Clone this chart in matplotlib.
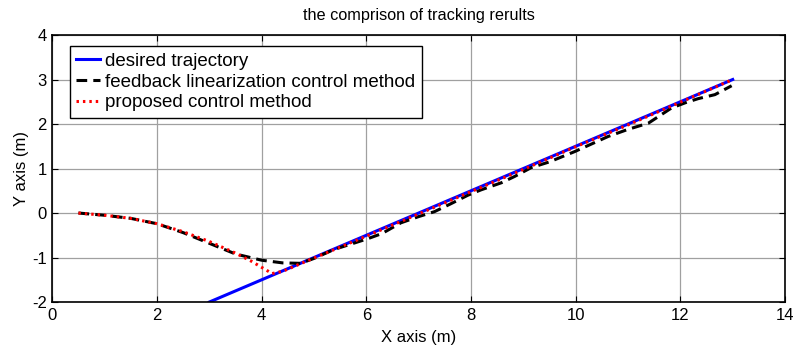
import matplotlib
matplotlib.use("Agg")
import matplotlib.pyplot as plt

# desired trajectory (straight line)
desired_x = [3.0, 13.0]
desired_y = [-2.0, 3.0]

# feedback linearization control method
fl_x = [0.5, 1.0, 1.5, 2.0, 2.5, 3.0, 3.5, 4.0, 4.4, 4.74, 5.0, 5.38, 5.7,
        6.02, 6.3, 6.66, 7.0, 7.3, 7.6, 7.94, 8.19, 8.58, 8.83, 9.15, 9.5,
        9.98, 10.3, 10.62, 11.0, 11.39, 11.83, 12.1, 12.34, 12.66, 12.98]
fl_y = [0.0, -0.05, -0.12, -0.24, -0.44, -0.68, -0.92, -1.06, -1.12, -1.13,
        -1.02, -0.82, -0.70, -0.58, -0.46, -0.22, -0.08, 0.03, 0.20, 0.40,
        0.52, 0.68, 0.82, 1.02, 1.15, 1.38, 1.55, 1.72, 1.88, 2.02, 2.36,
        2.48, 2.57, 2.66, 2.86]

# proposed control method
pr_x = [0.5, 1.0, 1.5, 2.0, 2.5, 3.0, 3.5, 3.8, 4.0, 4.2, 4.4, 5.0, 6.0,
        7.0, 8.0, 9.0, 10.0, 11.0, 12.0, 13.0]
pr_y = [0.0, -0.05, -0.12, -0.24, -0.42, -0.64, -0.90, -1.08, -1.22, -1.36,
        -1.31, -1.01, -0.52, -0.02, 0.48, 0.98, 1.49, 1.98, 2.49, 3.0]

xticks = [0, 2, 4, 6, 8, 10, 12, 14]
yticks = [-2, -1, 0, 1, 2, 3, 4]

plt.rcParams['font.family'] = ['Liberation Sans', 'DejaVu Sans']
plt.rcParams['font.size'] = 12
plt.rcParams['axes.unicode_minus'] = False  # matlab style hyphen minus


def plot_chart():
    fig = plt.figure(figsize=(7.97, 3.5), dpi=100)
    ax = fig.add_axes([0.0656, 0.137, 0.9194, 0.763])

    ax.plot(desired_x, desired_y, color='#0000ff', lw=2.2, label='desired trajectory')
    ax.plot(fl_x, fl_y, color='black', lw=2.2, ls=(0, (3.5, 2)),
            label='feedback linearization control method')
    ax.plot(pr_x, pr_y, color='#ff0000', lw=2.2, ls=(0, (0.8, 1.3)),
            label='proposed control method')

    ax.set_xlim(0, 14)
    ax.set_ylim(-2, 4)
    ax.set_xticks(xticks)
    ax.set_yticks(yticks)
    ax.grid(True, color='#a0a0a0', lw=0.9)
    ax.tick_params(direction='in', top=True, right=True, length=4, pad=4)
    for s in ax.spines.values():
        s.set_linewidth(1.2)

    ax.set_title('the comprison of tracking rerults', fontsize=11.7, pad=11)
    ax.set_xlabel('X axis (m)', labelpad=5)
    ax.set_ylabel('Y axis (m)', labelpad=2)

    leg = ax.legend(loc='upper left', bbox_to_anchor=(0.024, 0.959), fancybox=False,
                    edgecolor='black', framealpha=1, fontsize=13.5, handlelength=1.25,
                    handletextpad=0.3, borderpad=0.35, labelspacing=0.2,
                    borderaxespad=0)
    leg.get_frame().set_linewidth(1.0)

    fig.savefig('out.png', dpi=100)


if __name__ == "__main__":
    plot_chart()
